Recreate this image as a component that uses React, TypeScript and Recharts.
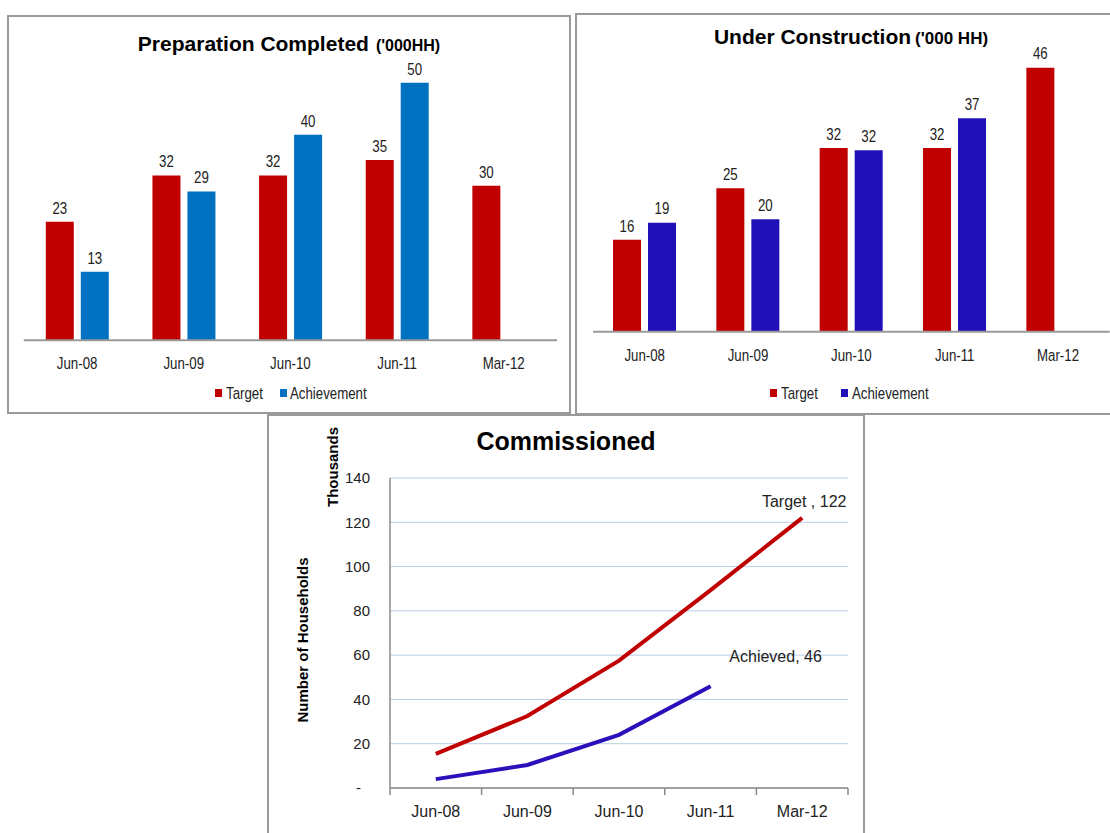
import React from "react"
import { BarChart, Bar, XAxis, YAxis, LabelList, LineChart, Line, CartesianGrid } from "recharts"

// categories
const periods = ["Jun-08", "Jun-09", "Jun-10", "Jun-11", "Mar-12"]

// Preparation Completed ('000HH)
const prepTarget = [23, 32, 32, 35, 30]
const prepAchieved = [13.3, 28.9, 39.9, 50, null]

// Under Construction ('000 HH)
const ucTarget = [16, 25, 32, 32, 46]
const ucAchieved = [19, 19.6, 31.6, 37.2, null]

// Commissioned (thousands of households)
const commTarget = [15.4, 32.5, 57.5, 89.4, 122]
const commAchieved = [4, 10.4, 24, 46, null]
const commTicks = [0, 20, 40, 60, 80, 100, 120, 140]

const RED = "#C00000"
const BLUE = "#0070C0"
const INDIGO = "#2010B8"
const LINE_BLUE = "#2A10BA"
const TXT = "#222"
const BORDER = "#9a9a9a"
const SANS = "'Liberation Sans', Arial, sans-serif"

const prepData = periods.map((p, i) => ({ period: p, target: prepTarget[i], achieved: prepAchieved[i] }))
const ucData = periods.map((p, i) => ({ period: p, target: ucTarget[i], achieved: ucAchieved[i] }))
const commData = periods.map((p, i) => ({ period: p, target: commTarget[i], achieved: commAchieved[i] }))

// no narrow font installed, so squeeze regular Arial-metric text sideways
function Narrow({ x, y, anchor = "middle", size = 16, children }: any) {
  return (
    <text transform={`translate(${x},${y}) scale(0.83,1)`} textAnchor={anchor} fontFamily={SANS} fontSize={size} fill={TXT}>
      {children}
    </text>
  )
}

function BarTick(p: any) {
  return <Narrow x={p.x} y={p.y + 29}>{p.payload.value}</Narrow>
}

function barValue(p: any) {
  if (p.value == null) return null
  return <Narrow x={p.x + p.width / 2} y={p.y - 8.3}>{Math.round(Number(p.value))}</Narrow>
}

// plot width of the line chart / 5 categories / 2
const COMM_HALF = 458 / 10

function CommXTick(p: any) {
  const { x, y, payload } = p
  const last = payload.value === periods[periods.length - 1]
  return (
    <g>
      <line x1={x - COMM_HALF} x2={x - COMM_HALF} y1={y} y2={y + 7} stroke="#8a8a8a" strokeWidth={1.5} />
      {last && <line x1={x + COMM_HALF} x2={x + COMM_HALF} y1={y} y2={y + 7} stroke="#8a8a8a" strokeWidth={1.5} />}
      <text x={x} y={y + 29} textAnchor="middle" fontFamily={SANS} fontSize={16} fill={TXT}>{payload.value}</text>
    </g>
  )
}

function CommYTick(p: any) {
  const { x, y, payload } = p
  const zero = payload.value === 0
  return (
    <text x={x - (zero ? 9 : 0)} y={y} dy="0.355em" textAnchor="end" fontFamily={SANS} fontSize={15} fill={TXT}>
      {zero ? "-" : payload.value}
    </text>
  )
}

function endLabel(name: string, series: (number | null)[], dx: number, dy: number) {
  const lastIdx = series.reduce((acc: number, v, i) => (v != null ? i : acc), 0)
  return (p: any) => {
    if (p.index !== lastIdx || p.value == null) return null
    return (
      <text x={p.x + dx} y={p.y + dy} textAnchor="middle" fontFamily={SANS} fontSize={16} fill={TXT}>
        {`${name}, ${Math.round(Number(p.value))}`}
      </text>
    )
  }
}

function Box({ left, top, width, height }: { left: number; top: number; width: number; height: number }) {
  return (
    <div style={{ position: "absolute", left, top, width, height, border: `2px solid ${BORDER}`, boxSizing: "border-box" }} />
  )
}

export default function App() {
  return (
    <div style={{ position: "absolute", left: 0, top: 0, width: 1110, height: 833, background: "#fff", overflow: "hidden" }}>
      <Box left={7} top={15} width={564} height={399} />
      <Box left={575} top={13} width={540} height={402} />
      <Box left={267} top={414} width={598} height={430} />

      {/* Preparation Completed */}
      <div style={{ position: "absolute", left: 8, top: 12 }}>
        <BarChart width={562} height={401} data={prepData} barGap={7} margin={{ top: 19.3, right: 13, bottom: 42.7, left: 15.8 }}>
          <XAxis dataKey="period" height={30} tick={<BarTick />} tickLine={false} tickSize={0} tickMargin={0}
            axisLine={{ stroke: BORDER, strokeWidth: 2 }} />
          <YAxis hide domain={[0, 60]} />
          <Bar dataKey="target" fill={RED} barSize={28} isAnimationActive={false}>
            <LabelList dataKey="target" content={barValue} />
          </Bar>
          <Bar dataKey="achieved" fill={BLUE} barSize={28} isAnimationActive={false}>
            <LabelList dataKey="achieved" content={barValue} />
          </Bar>
        </BarChart>
      </div>

      {/* Under Construction */}
      <div style={{ position: "absolute", left: 576, top: 14 }}>
        <BarChart width={534} height={399} data={ucData} barGap={7} margin={{ top: 30.7, right: 0.3, bottom: 51.3, left: 17 }}>
          <XAxis dataKey="period" height={30} tick={<BarTick />} tickLine={false} tickSize={0} tickMargin={0}
            axisLine={{ stroke: BORDER, strokeWidth: 2 }} />
          <YAxis hide domain={[0, 50]} />
          <Bar dataKey="target" fill={RED} barSize={28} isAnimationActive={false}>
            <LabelList dataKey="target" content={barValue} />
          </Bar>
          <Bar dataKey="achieved" fill={INDIGO} barSize={28} isAnimationActive={false}>
            <LabelList dataKey="achieved" content={barValue} />
          </Bar>
        </BarChart>
      </div>

      {/* Commissioned */}
      <div style={{ position: "absolute", left: 270, top: 415 }}>
        <LineChart width={594} height={418} data={commData} margin={{ top: 63, right: 16, bottom: 15, left: 60 }}>
          <CartesianGrid vertical={false} stroke="#B9CDE5" strokeWidth={1} />
          <XAxis dataKey="period" height={30} padding={{ left: COMM_HALF, right: COMM_HALF }} tick={<CommXTick />}
            tickLine={false} tickSize={0} tickMargin={0} interval={0} axisLine={{ stroke: "#8a8a8a", strokeWidth: 1.5 }} />
          <YAxis width={60} domain={[0, 140]} ticks={commTicks} interval={0} tick={<CommYTick />} tickLine={false}
            tickSize={6} tickMargin={14} axisLine={{ stroke: "#8a8a8a", strokeWidth: 1.5 }} />
          <Line dataKey="target" stroke={RED} strokeWidth={4} dot={false} isAnimationActive={false}>
            <LabelList dataKey="target" content={endLabel("Target ", commTarget, 2, -11)} />
          </Line>
          <Line dataKey="achieved" stroke={LINE_BLUE} strokeWidth={4} dot={false} isAnimationActive={false}>
            <LabelList dataKey="achieved" content={endLabel("Achieved", commAchieved, 65, -24)} />
          </Line>
        </LineChart>
      </div>

      {/* titles, legends, axis titles */}
      <svg width={1110} height={833} style={{ position: "absolute", left: 0, top: 0, pointerEvents: "none" }}>
        <text x={289} y={50.5} textAnchor="middle" fontFamily={SANS} fontWeight="bold" fill="#000">
          <tspan fontSize={21}>Preparation Completed</tspan>
          <tspan fontSize={16} dx={7}>('000HH)</tspan>
        </text>
        <text x={851} y={44} textAnchor="middle" fontFamily={SANS} fontWeight="bold" fill="#000">
          <tspan fontSize={21}>Under Construction</tspan>
          <tspan fontSize={17} dx={4}>('000 HH)</tspan>
        </text>
        <text x={566} y={450} textAnchor="middle" fontFamily={SANS} fontWeight="bold" fontSize={25} fill="#000">Commissioned</text>

        {/* legend 1 */}
        <rect x={215} y={389} width={7} height={8} fill={RED} />
        <Narrow x={226} y={398.5} anchor="start">Target</Narrow>
        <rect x={280} y={389} width={7} height={8} fill={BLUE} />
        <Narrow x={290} y={398.5} anchor="start">Achievement</Narrow>

        {/* legend 2 */}
        <rect x={770} y={389} width={7} height={8} fill={RED} />
        <Narrow x={781} y={399} anchor="start">Target</Narrow>
        <rect x={841} y={389} width={7} height={8} fill={INDIGO} />
        <Narrow x={852} y={399} anchor="start">Achievement</Narrow>

        <text x={308} y={640} transform="rotate(-90 308 640)" textAnchor="middle" fontFamily={SANS} fontWeight="bold" fontSize={15} fill="#000">Number of Households</text>
        <text x={338} y={467} transform="rotate(-90 338 467)" textAnchor="middle" fontFamily={SANS} fontWeight="bold" fontSize={15} fill="#000">Thousands</text>
      </svg>
    </div>
  )
}
